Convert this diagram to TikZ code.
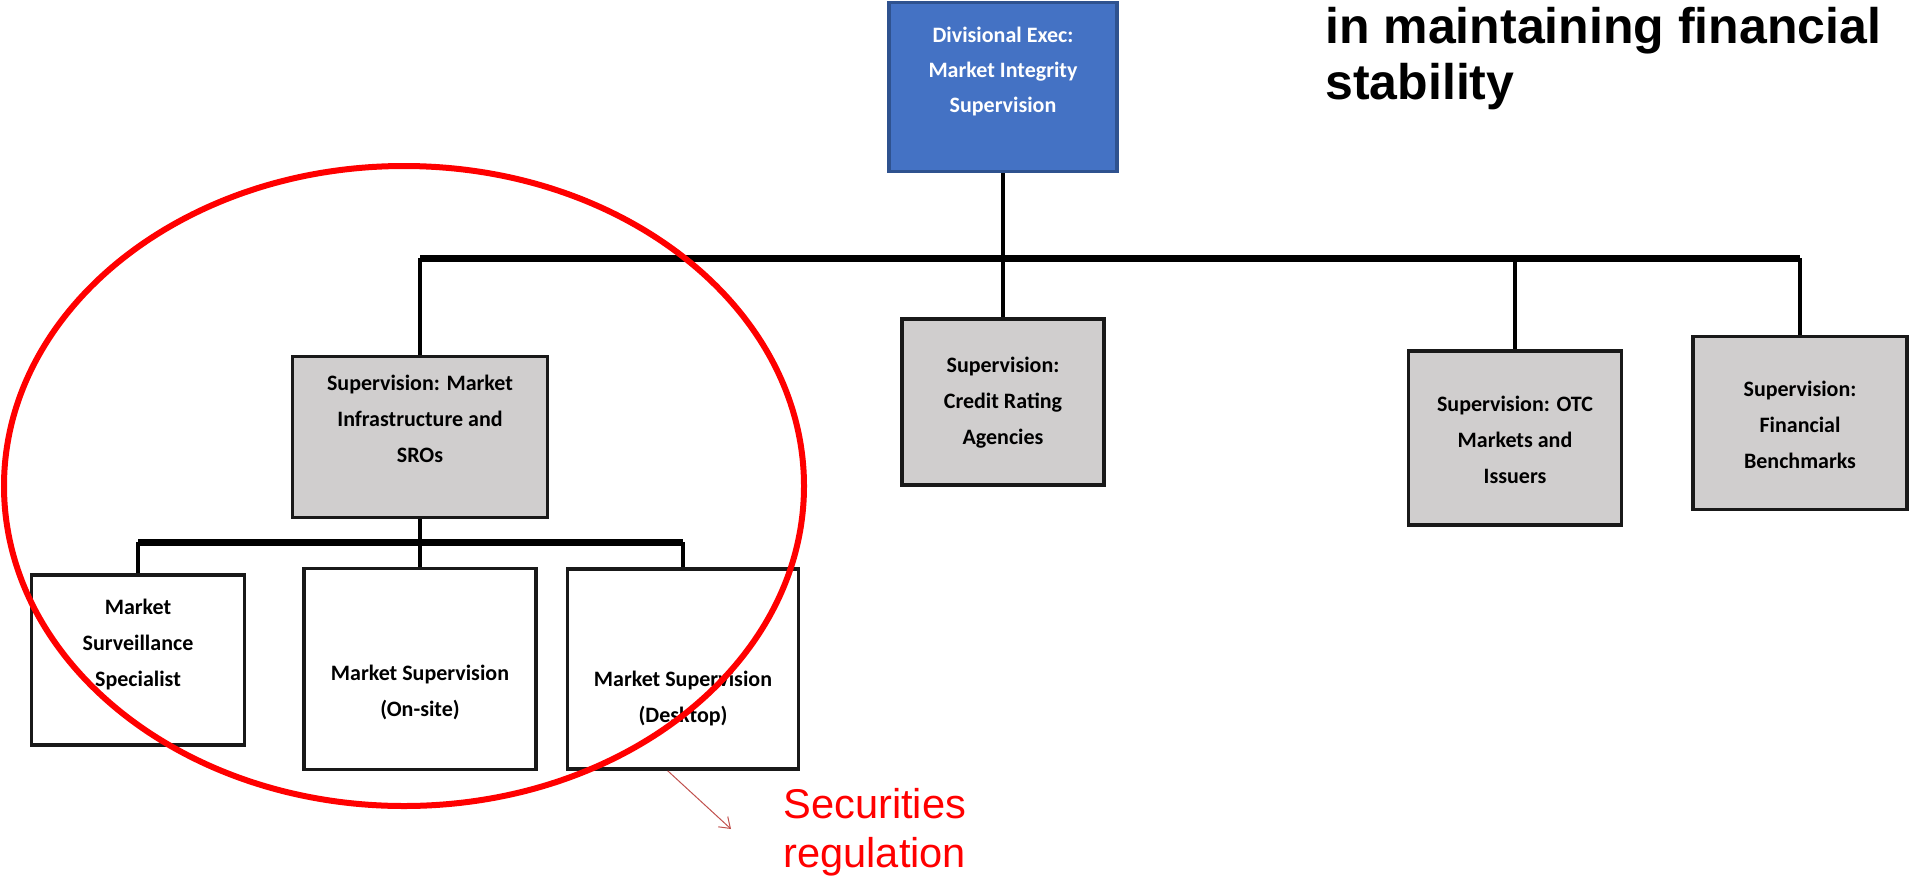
\documentclass[tikz,border=0pt]{standalone}
\usepackage{fontspec}
\setmainfont{Carlito}
\newfontfamily\arialfont{Liberation Sans}
\usetikzlibrary{arrows.meta}
\definecolor{execblue}{HTML}{4472C4}
\definecolor{execedge}{HTML}{2F528F}
\definecolor{unitgray}{HTML}{D0CECE}
\definecolor{notered}{HTML}{C0504D}
\begin{document}
\begin{tikzpicture}[x=0.5pt,y=-0.5pt,
    box/.style={draw=black!90,line width=1.8pt,inner sep=0pt},
    execbox/.style={box,draw=execedge,fill=execblue},
    unitbox/.style={box,fill=unitgray},
    deskbox/.style={box,fill=white},
    boxtext/.style={align=center,inner sep=0pt,font=\bfseries\fontsize{11}{18}\selectfont},
    bus/.style={line width=3.5pt},
    wire/.style={line width=2.2pt},
    ring/.style={red,line width=3pt},
    pointer/.style={notered,line width=0.5pt,-{Straight Barb[length=5pt,width=7pt]}}]
            \useasboundingbox (0,0) rectangle (1910,879);

            \node[execbox,minimum width=114pt,minimum height=84.5pt] (exec) at (1003,87) {};
            \node[boxtext,text=white,font=\bfseries\fontsize{11}{17.5}\selectfont] (exec-t) at (1003,72) {Divisional Exec:\\Market Integrity\\Supervision};

            \node[unitbox,minimum width=127.5pt,minimum height=80.5pt] (infra) at (420,437) {};
            \node[boxtext] (infra-t) at (420,419) {Supervision: Market\\Infrastructure and\\SROs};
            \node[unitbox,minimum width=101pt,minimum height=83pt] (credit) at (1003,402) {};
            \node[boxtext] (credit-t) at (1003,403) {Supervision:\\Credit Rating\\Agencies};
            \node[unitbox,minimum width=106.5pt,minimum height=87pt] (otc) at (1515,438) {};
            \node[boxtext] (otc-t) at (1515,440) {Supervision: OTC\\Markets and\\Issuers};
            \node[unitbox,minimum width=107pt,minimum height=86.5pt] (fin) at (1800,423) {};
            \node[boxtext] (fin-t) at (1800,425) {Supervision:\\Financial\\Benchmarks};

            \node[deskbox,minimum width=106.5pt,minimum height=85pt] (surv) at (138,660) {};
            \node[boxtext] (surv-t) at (138,644) {Market\\Surveillance\\Specialist};
            \node[deskbox,minimum width=116pt,minimum height=100.5pt] (onsite) at (420,669) {};
            \node[boxtext] (onsite-t) at (420,692) {Market Supervision\\(On-site)};
            \node[deskbox,minimum width=115.5pt,minimum height=100pt] (desk) at (683,669) {};
            \node[boxtext] (desk-t) at (683,698) {Market Supervision\\(Desktop)};

            \coordinate (topbus) at (1003,258);
            \coordinate (lowbus) at (420,542);
            \draw[wire] (exec.south) -- (credit.north);
            \draw[bus] (infra.north |- topbus) -- (fin.north |- topbus);
            \draw[wire] (infra.north |- topbus) -- (infra.north);
            \draw[wire] (otc.north |- topbus) -- (otc.north);
            \draw[wire] (fin.north |- topbus) -- (fin.north);
            \draw[wire] (infra.south) -- (onsite.north);
            \draw[bus] (surv.north |- lowbus) -- (desk.north |- lowbus);
            \draw[wire] (surv.north |- lowbus) -- (surv.north);
            \draw[wire] (desk.north |- lowbus) -- (desk.north);

            \draw[ring] (404,486) ellipse [x radius=400,y radius=320];

            \coordinate (pointer-end) at (731,829);
            \draw[pointer] ([xshift=51pt]desk.south west) -- (pointer-end);

            \node[anchor=north west,align=left,inner sep=0pt,text=red,font=\arialfont\fontsize{20.8}{24.5}\selectfont] (secreg) at (783,788) {Securities\\regulation};
            \node[anchor=north west,align=left,inner sep=0pt,font=\arialfont\bfseries\fontsize{25}{28}\selectfont] (title) at (1325,7) {in maintaining financial\\stability};
        \end{tikzpicture}
\end{document}
